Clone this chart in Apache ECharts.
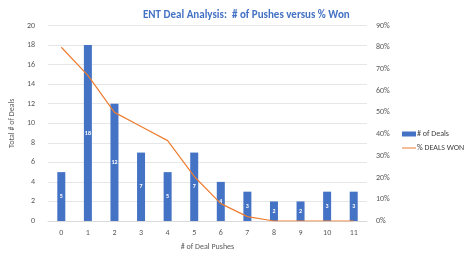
<!DOCTYPE html>
<html>
<head>
<meta charset="utf-8">
<script src="https://cdn.jsdelivr.net/npm/echarts@6/dist/echarts.min.js"></script>
<style>
  html, body { margin: 0; padding: 0; background: #fff; }
  #chart-container { width: 468px; height: 257px; }
</style>
</head>
<body>
<div id="chart-container"></div>
<script>
var pushes = ['0', '1', '2', '3', '4', '5', '6', '7', '8', '9', '10', '11'];
var deals = [5, 18, 12, 7, 5, 7, 4, 3, 2, 2, 3, 3];
var pctWon = [80, 67, 50, 43.5, 37, 20.5, 8, 2, 0, 0, 0, 0];

var dom = document.getElementById('chart-container');
var myChart = echarts.init(dom, null, { renderer: 'canvas' });

var font = 'Calibri, "Liberation Sans", "Open Sans", sans-serif';

var option = {
    animation: false,
    textStyle: { fontFamily: font },
    title: {
        text: 'ENT Deal Analysis:  # of Pushes versus % Won',
        left: 138,
        top: 5,
        textStyle: { color: '#4472C4', fontSize: 11, fontWeight: 'bold', fontFamily: font }
    },
    legend: {
        orient: 'vertical',
        left: 397,
        top: 125,
        itemGap: 6,
        itemWidth: 14,
        itemHeight: 5,
        textStyle: { fontSize: 8, color: '#404040', padding: [0, 0, 0, -4] },
        data: [
            { name: '# of Deals', icon: 'rect' },
            { name: '% DEALS WON', icon: 'path://M0,0 H14 V1 H0 Z' }
        ]
    },
    grid: { left: 36, right: 101, top: 25.5, bottom: 36 },
    xAxis: {
        type: 'category',
        data: pushes,
        name: '# of Deal Pushes',
        nameLocation: 'middle',
        nameGap: 22,
        nameTextStyle: { fontSize: 8, color: '#595959' },
        axisTick: { show: false },
        axisLine: { lineStyle: { color: '#d9d9d9' } },
        axisLabel: { fontSize: 8, color: '#595959', margin: 8 }
    },
    yAxis: [
        {
            type: 'value',
            min: 0, max: 20, interval: 2,
            name: 'Total # of Deals',
            nameLocation: 'middle',
            nameGap: 21,
            nameTextStyle: { fontSize: 8, color: '#595959' },
            axisLabel: { fontSize: 8, color: '#595959', margin: 13 },
            splitLine: { lineStyle: { color: '#e6e6e6' } }
        },
        {
            type: 'value',
            min: 0, max: 90, interval: 10,
            axisLabel: { fontSize: 8, color: '#595959', formatter: '{value}%', margin: 9 },
            splitLine: { show: false }
        }
    ],
    series: [
        {
            name: '# of Deals',
            type: 'bar',
            data: deals,
            barWidth: 8,
            itemStyle: { color: '#4472C4' },
            label: {
                show: true,
                position: 'inside',
                color: '#fff',
                fontSize: 6,
                fontWeight: 'bold'
            }
        },
        {
            name: '% DEALS WON',
            type: 'line',
            yAxisIndex: 1,
            data: pctWon,
            symbol: 'none',
            lineStyle: { color: '#ED7D31', width: 1.2 },
            itemStyle: { color: '#ED7D31' }
        }
    ]
};

myChart.setOption(option);
window.addEventListener('resize', myChart.resize);
</script>
</body>
</html>
